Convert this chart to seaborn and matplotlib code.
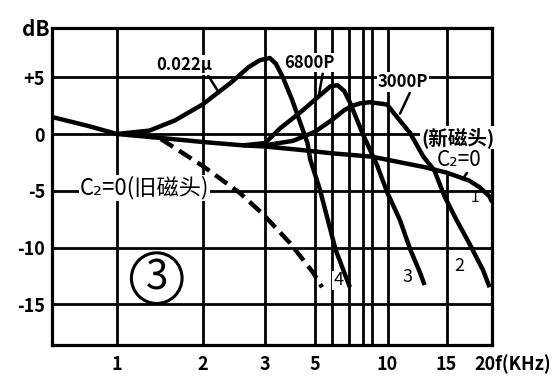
import numpy as np
import pandas as pd
import matplotlib
matplotlib.use("Agg")
import matplotlib.pyplot as plt
import seaborn as sns

# ---------------- data ----------------
# curve 1: C2=0, new head
f_new = [0.6, 0.8, 1.0, 1.5, 2.0, 2.6, 3.0, 4.3, 6.0, 9.0, 12.8, 15.0, 17.3, 18.5, 19.7, 20.0]
db_new = [1.5, 0.7, 0.0, -0.4, -0.7, -1.0, -1.1, -1.4, -1.7, -2.0, -2.9, -3.4, -4.1, -4.7, -5.5, -6.0]

# curve 4: 0.022 uF
f_022 = [1.0, 1.3, 1.6, 2.0, 2.4, 2.7, 2.9, 3.15, 3.35, 3.6, 3.96, 4.3, 4.63, 4.77, 5.27, 6.2, 7.06]
db_022 = [0.0, 0.3, 1.2, 2.6, 4.5, 5.9, 6.5, 6.7, 6.2, 5.0, 3.0, 1.0, -0.8, -2.3, -4.9, -10.2, -13.5]

# curve 3: 6800P
f_6800 = [2.6, 3.0, 3.5, 4.3, 5.27, 5.9, 6.3, 6.7, 7.06, 8.03, 9.3, 10.0, 10.9, 11.7, 12.5, 12.9]
db_6800 = [-1.0, -0.8, 0.5, 1.9, 3.4, 4.2, 4.3, 3.8, 2.8, 0.0, -2.7, -5.2, -7.6, -10.2, -12.2, -13.3]

# curve 2: 3000P
f_3000 = [3.0, 4.0, 5.0, 6.05, 6.7, 7.27, 7.8, 8.78, 9.97, 10.67, 11.67, 12.8, 13.8, 14.8, 16.0, 17.3, 18.9, 19.7]
db_3000 = [-1.0, -0.6, 0.2, 1.3, 2.1, 2.5, 2.7, 2.8, 2.6, 1.5, 0.1, -2.0, -3.2, -5.5, -7.6, -9.6, -12.0, -13.5]

# dashed: C2=0, old head
f_old = [1.2, 1.42, 2.0, 2.55, 2.97, 3.87, 4.9, 5.39]
db_old = [-0.05, -0.4, -2.8, -5.2, -7.1, -9.6, -12.2, -13.5]

x_ticks = [1, 2, 3, 5, 10, 15]
x_tick_labels = ["1", "2", "3", "5", "10", "15"]
x_minor_grid = [6, 7, 8, 9]
y_ticks = [5, 0, -5, -10, -15]
y_tick_labels = ["+5", "0", "-5", "-10", "-15"]

# ---------------- hand-drawn frequency grid (scale) ----------------
grid_f = [0.01, 0.6, 1, 2, 3, 5, 6, 7, 8, 9, 10, 15, 20, 1000]
grid_pos = [-469, 52, 117, 202.5, 265, 315, 332, 349, 362.5, 372, 387.5, 446.5, 492, 1110]
LF = np.log10(grid_f)
PX = np.array(grid_pos, dtype=float)


def fwd(x):
    x = np.asarray(x, dtype=float)
    lx = np.log10(np.clip(x, 1e-3, None))
    return np.interp(lx, LF, PX)


def inv(p):
    p = np.asarray(p, dtype=float)
    return 10 ** np.interp(p, PX, LF)


sns.set_theme(style="white")
plt.rcParams["font.family"] = ["Noto Sans CJK SC", "DejaVu Sans"]

W, H = 557, 385
fig = plt.figure(figsize=(W / 100, H / 100), dpi=100)
L, R, T, B = 52, 492, 28, 345
ax = fig.add_axes([L / W, 1 - B / H, (R - L) / W, (B - T) / H])
ax.set_xscale("function", functions=(fwd, inv))
ax.set_xlim(0.6, 20)
ax.set_ylim(-18.59, 9.34)

lw = 3.2
kw = dict(ax=ax, color="black", linewidth=lw, estimator=None, sort=False, zorder=4,
          legend=False)
sns.lineplot(x=f_new, y=db_new, **kw)
sns.lineplot(x=f_022, y=db_022, **kw)
sns.lineplot(x=f_6800, y=db_6800, **kw)
sns.lineplot(x=f_3000, y=db_3000, **kw)
l = sns.lineplot(x=f_old, y=db_old, **kw)
l.lines[-1].set_dashes((3.3, 1.6))
for ln in ax.lines:
    ln.set_solid_joinstyle("round")
    ln.set_solid_capstyle("butt")

ax.set_xticks(x_ticks)
ax.set_xticklabels(x_tick_labels)
ax.set_xticks(x_minor_grid, minor=True)
ax.set_yticks(y_ticks)
ax.set_yticklabels(y_tick_labels)
ax.grid(True, which="both", color="black", linewidth=2.0)
ax.tick_params(which="both", length=0)
ax.tick_params(axis="x", pad=7, labelsize=13)
ax.tick_params(axis="y", pad=5, labelsize=13)
for t in ax.get_xticklabels() + ax.get_yticklabels():
    t.set_fontweight("bold")
    t.set_color("black")
for s in ax.spines.values():
    s.set_color("black")
    s.set_linewidth(2.3)
ax.set_xlabel("")
ax.set_ylabel("")

ax.annotate("20f(KHz)", xy=(20, 0), xycoords=("data", "axes fraction"),
            xytext=(-13, -7), textcoords="offset points", ha="left", va="top",
            fontsize=13, fontweight="bold", color="black", annotation_clip=False)
fig.text(50 / W, 1 - 30 / H, "dB", ha="right", va="center", fontsize=15,
         fontweight="bold", color="black")

box = dict(boxstyle="square,pad=0.05", fc="white", ec="none")
tk = dict(color="black", zorder=3, ha="center", va="center", annotation_clip=False)


def lead(rx):
    return dict(arrowstyle="-", color="black", lw=1.8, shrinkA=1, shrinkB=0,
                relpos=(rx, 0.0))


ax.annotate("0.022μ", xy=(2.23, 3.6), xytext=(1.73, 6.1), fontsize=12,
            fontweight="bold", bbox=box, arrowprops=lead(0.9), **tk)
ax.annotate("6800P", xy=(5.2, 3.3), xytext=(4.7, 6.3), fontsize=12,
            fontweight="bold", bbox=box, arrowprops=lead(0.78), **tk)
ax.annotate("3000P", xy=(10.9, 1.8), xytext=(11.1, 4.6), fontsize=12,
            fontweight="bold", bbox=box, arrowprops=lead(0.66), **tk)
ax.text(16.1, -0.3, "(新磁头)", fontsize=14, fontweight="bold", bbox=box,
        color="black", zorder=3, ha="center", va="center", clip_on=False)
ax.annotate("C₂=0", xy=(16.6, -4.0), xytext=(16.2, -2.25), fontsize=15,
            bbox=box, arrowprops=lead(0.72), **tk)
ax.text(1.25, -4.75, "C₂=0(旧磁头)", fontsize=16, bbox=box,
        color="black", zorder=3, ha="center", va="center", clip_on=False)
ax.text(1.38, -12.7, "3", fontsize=29, color="black", zorder=3, ha="center",
        va="center", clip_on=False,
        bbox=dict(boxstyle="circle,pad=0.12", fc="white", ec="black", lw=2.2))
for fx, dy, s in [(6.35, -12.9, "4"), (11.5, -12.6, "3"), (16.3, -11.6, "2")]:
    ax.text(fx, dy, s, fontsize=13, bbox=box, color="black", zorder=3,
            ha="center", va="center")
ax.text(17.9, -5.6, "1", fontsize=11, color="black", zorder=3, ha="center",
        va="center")

fig.savefig("out.png", dpi=100, facecolor="white")
